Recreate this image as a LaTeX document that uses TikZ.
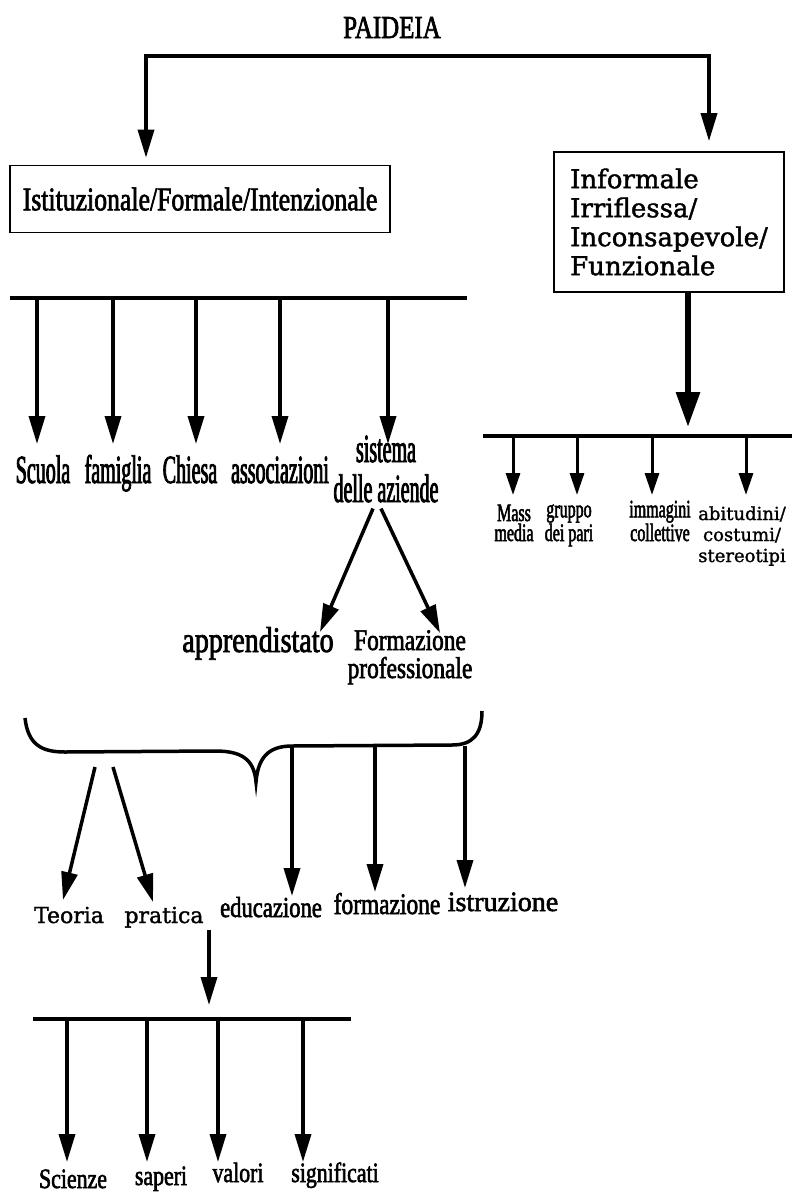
\documentclass[tikz,border=0pt]{standalone}
\usepackage{fontspec}
\setmainfont{Liberation Serif}[FakeBold=2]
\newfontfamily\condfont{Liberation Serif}[FakeStretch=0.5,FakeBold=2]
\newfontfamily\garfont{Liberation Serif}[FakeStretch=0.78,FakeBold=2]
\newfontfamily\narrowfont{Liberation Serif}[FakeStretch=0.64,FakeBold=2]
\newfontfamily\widefont{DejaVu Serif}[FakeBold=1.5]
\usetikzlibrary{arrows.meta,positioning}

\tikzset{
  barline/.style={line width=4.5pt, line cap=rect},
  arr/.style={line width=3.5pt, -{Triangle[length=28pt,width=16pt]}},
  smallarr/.style={line width=3pt, -{Triangle[length=22pt,width=14pt]}},
  thickarr/.style={line width=6pt, -{Triangle[length=35pt,width=23pt]}},
  bracelin/.style={line width=3.5pt},
  boxnode/.style={draw, line width=1.6pt, inner sep=0pt},
  lab/.style={inner sep=0pt, anchor=base, align=center},
  condlab/.style={lab, font=\condfont\fontsize{40}{40}\selectfont},
  garlab/.style={lab, font=\garfont\fontsize{#1}{#1}\selectfont},
  smalllab/.style={lab, font=\narrowfont\fontsize{25}{20}\selectfont},
  widelab/.style={lab, font=\widefont\fontsize{#1}{#1}\selectfont},
}

\begin{document}
\begin{tikzpicture}[x=1pt,y=-1pt]
\useasboundingbox (0,0) rectangle (796,1194);

% PAIDEIA and the two branches
\node[garlab=32] (paideia) at (392,38) {PAIDEIA};
\coordinate (topL) at (146,56);
\coordinate (topR) at (709,56);
\draw[barline] (topL) -- (topR);
\node[boxnode, minimum width=380pt, minimum height=67pt,
  font=\garfont\fontsize{33}{33}\selectfont] (istit) at (200,199)
  {Istituzionale/Formale/Intenzionale};
\node[boxnode, minimum width=230pt, minimum height=140pt, align=left,
  font=\widefont\fontsize{26}{29}\selectfont] (inform) at (669,222)
  {Informale\\Irriflessa/\\Inconsapevole/\\Funzionale};
\draw[arr, shorten >=7pt] (topL) -- (topL |- istit.north);
\draw[arr, shorten >=10pt] (topR) -- (topR |- inform.north);

% formal side
\coordinate (lbarL) at (12,298);
\coordinate (lbarR) at (465,298);
\draw[barline] (lbarL) -- (lbarR);
\foreach \n/\x in {scuola/37,famiglia/113,chiesa/196,assoc/280,sistema/388}
  \coordinate (t-\n) at (\x,444);
\foreach \n in {scuola,famiglia,chiesa,assoc,sistema}
  \draw[arr] (t-\n |- lbarL) -- (t-\n);
\node[condlab] (scuola) at (43,483) {Scuola};
\node[condlab] (famiglia) at (118,483) {famiglia};
\node[condlab] (chiesa) at (190,483) {Chiesa};
\node[condlab] (assoc) at (280,483) {associazioni};
\node[condlab] (sistema) at (386,502) {sistema\\delle aziende};

% aziende
\node[garlab=36] (appr) at (258,652) {apprendistato};
\node[lab, font=\garfont\fontsize{30}{28}\selectfont] (fprof) at (410,678) {Formazione\\professionale};
\coordinate (t-appr) at (320,632);
\coordinate (t-fprof) at (440,633);
\draw[arr] ([xshift=-13pt,yshift=-6pt]sistema.south) -- (t-appr);
\draw[arr] ([xshift=-5pt,yshift=-6pt]sistema.south) -- (t-fprof);

% informal side
\coordinate (infdown) at ([xshift=19pt]inform.south);
\coordinate (rbarL) at (485,436);
\coordinate (rbarR) at (790,436);
\draw[barline] (rbarL) -- (rbarR);
\draw[thickarr, shorten >=9pt] (infdown) -- (infdown |- rbarL);
\foreach \n/\x in {mass/513,gruppo/577,immag/652,abit/746}
  \coordinate (t-\n) at (\x,495);
\foreach \n in {mass,gruppo,immag,abit}
  \draw[smallarr] (t-\n |- rbarL) -- (t-\n);
\node[smalllab] (mass) at (514,541) {Mass\\media};
\node[smalllab] (gruppo) at (569,541) {gruppo\\dei pari};
\node[smalllab] (immag) at (660,541) {immagini\\collettive};
\node[lab, font=\widefont\fontsize{18}{21}\selectfont] (abit) at (742,562) {abitudini/\\costumi/\\stereotipi};

% brace
\draw[bracelin] (25,718) .. controls (28,745) and (42,752) .. (65,752)
  -- (215,751) .. controls (240,751) and (254,758) .. (256,782)
  .. controls (258,758) and (268,746) .. (292,746)
  -- (452,745) .. controls (472,745) and (482,735) .. (482,711);
\coordinate (brR) at (292,746);
\coordinate (brA) at (95,767);
\coordinate (brB) at (113,767);
\foreach \n/\x/\y in {edu/292/896,form/375/892,istr/465/888}
  \coordinate (t-\n) at (\x,\y);
\foreach \n in {edu,form,istr}
  \draw[arr] (t-\n |- brR) -- (t-\n);
\coordinate (t-teoria) at (63,900);
\coordinate (t-pratica) at (153,902);
\draw[arr] (brA) -- (t-teoria);
\draw[arr] (brB) -- (t-pratica);
\node[widelab=22] (teoria) at (69,923) {Teoria};
\node[widelab=22] (pratica) at (164,923) {pratica};
\node[garlab=29] (edu) at (271,917) {educazione};
\node[garlab=30] (form) at (387,914) {formazione};
\node[lab, font=\fontsize{28}{28}\selectfont] (istr) at (503,911) {istruzione};

% last level
\coordinate (subtop) at (209,930);
\coordinate (lowL) at (35,1019);
\coordinate (lowR) at (349,1019);
\draw[barline] (lowL) -- (lowR);
\draw[arr, shorten >=14pt] (subtop) -- (subtop |- lowL);
\foreach \n/\x in {scienze/67,saperi/147,valori/218,signif/303}
  \coordinate (t-\n) at (\x,1162);
\foreach \n in {scienze,saperi,valori,signif}
  \draw[arr] (t-\n |- lowL) -- (t-\n);
\node[garlab=28] (scienze) at (73,1188) {Scienze};
\node[garlab=28] (saperi) at (161,1185) {saperi};
\node[garlab=28] (valori) at (238,1182) {valori};
\node[garlab=28] (signif) at (335,1182) {significati};
\end{tikzpicture}
\end{document}
